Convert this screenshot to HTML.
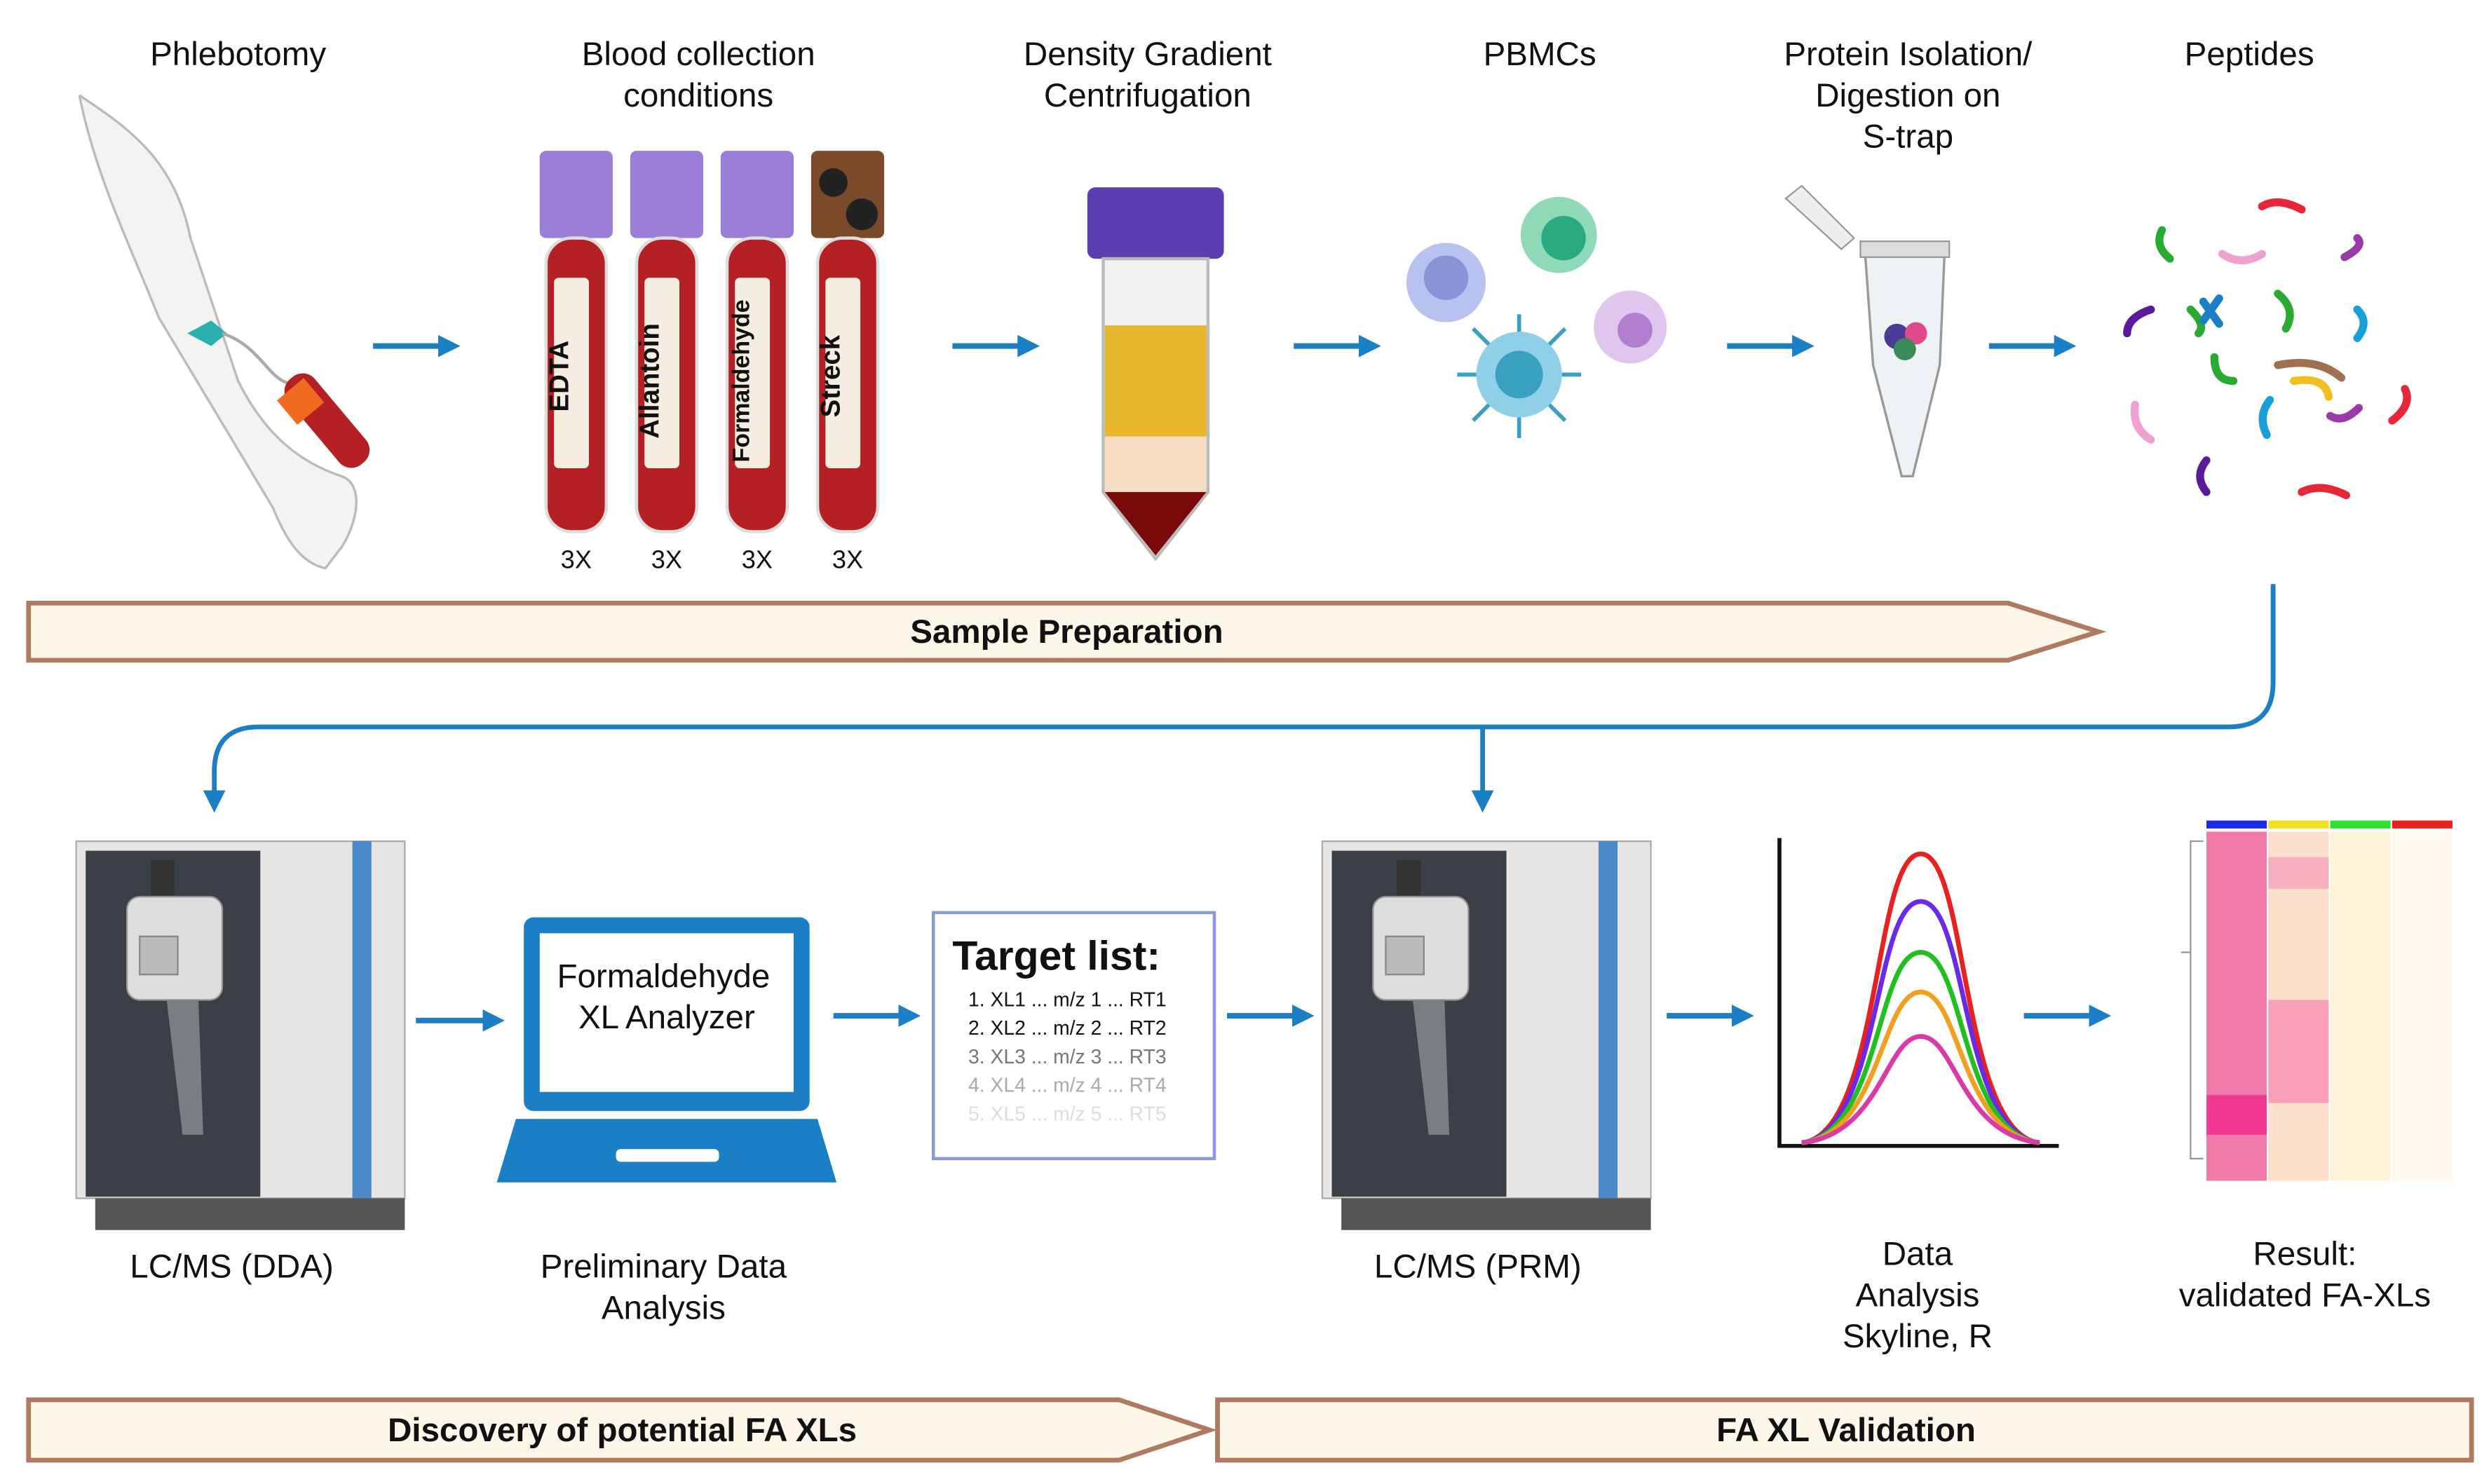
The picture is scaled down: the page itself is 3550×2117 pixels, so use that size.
<!DOCTYPE html>
<html><head><meta charset="utf-8"><style>
html,body{margin:0;padding:0;background:#fff}
svg{display:block}
text{font-family:"Liberation Sans",sans-serif;fill:#111}
</style></head><body>
<svg width="3550" height="2117" viewBox="0 0 1568 935" xmlns="http://www.w3.org/2000/svg">
<defs>
<marker id="ah" markerWidth="8" markerHeight="8" refX="6" refY="4" orient="auto" markerUnits="userSpaceOnUse"><path d="M0,0 L8,4 L0,8 z" fill="#1a7fc4"/></marker>
<marker id="ah2" markerWidth="14" markerHeight="14" refX="10" refY="7" orient="auto" markerUnits="userSpaceOnUse"><path d="M0,0 L14,7 L0,14 z" fill="#1a7fc4"/></marker>
<linearGradient id="blue" x1="0" x2="1"><stop offset="0" stop-color="#3a7fb8"/><stop offset="1" stop-color="#6aaad8"/></linearGradient>
</defs>
<g font-size="21" text-anchor="middle">
<text x="150" y="41">Phlebotomy</text>
<text x="440" y="41">Blood collection</text><text x="440" y="67">conditions</text>
<text x="723" y="41">Density Gradient</text><text x="723" y="67">Centrifugation</text>
<text x="970" y="41">PBMCs</text>
<text x="1202" y="41">Protein Isolation/</text><text x="1202" y="67">Digestion on</text><text x="1202" y="93">S-trap</text>
<text x="1417" y="41">Peptides</text>
</g>
<!-- top arrows -->
<g stroke="#1a7fc4" stroke-width="3.5" marker-end="url(#ah2)">
<line x1="235" y1="218" x2="286" y2="218"/><line x1="600" y1="218" x2="651" y2="218"/>
<line x1="815" y1="218" x2="866" y2="218"/><line x1="1088" y1="218" x2="1139" y2="218"/>
<line x1="1253" y1="218" x2="1304" y2="218"/>
<line x1="262" y1="643" x2="314" y2="643"/><line x1="525" y1="640" x2="576" y2="640"/>
<line x1="773" y1="640" x2="824" y2="640"/><line x1="1050" y1="640" x2="1101" y2="640"/>
<line x1="1275" y1="640" x2="1326" y2="640"/>
</g>
<!-- arm -->
<path d="M50,60 C80,80 110,100 120,150 L150,240 C165,270 185,290 215,300 C230,305 225,330 215,345 L205,358 C190,355 180,340 172,320 L100,200 C80,150 60,110 50,60" fill="#f3f3f3" stroke="#bbb" stroke-width="1.5"/>
<path d="M118,210 l15,-8 l10,8 l-10,8z" fill="#2ab0b0"/>
<path d="M140,210 C170,220 170,250 195,240" stroke="#aaa" fill="none" stroke-width="2"/>
<rect x="195" y="230" width="22" height="70" rx="10" fill="#b52025" transform="rotate(-40 206 265)"/>
<rect x="190" y="235" width="22" height="20" fill="#f06a20" transform="rotate(-40 206 265)"/>
<!-- tubes -->
<g>
<g id="t"><rect x="340" y="95" width="46" height="55" rx="4" fill="#9a7ed8"/><rect x="344" y="150" width="38" height="185" rx="16" fill="#b52025" stroke="#ddd" stroke-width="2"/><rect x="349" y="175" width="22" height="120" rx="3" fill="#f5ede0"/></g>
<use href="#t" x="57"/><use href="#t" x="114"/>
<rect x="511" y="95" width="46" height="55" rx="4" fill="#7a4a2a"/><circle cx="525" cy="115" r="9" fill="#222"/><circle cx="543" cy="135" r="10" fill="#222"/>
<rect x="515" y="150" width="38" height="185" rx="16" fill="#b52025" stroke="#ddd" stroke-width="2"/><rect x="520" y="175" width="22" height="120" rx="3" fill="#f5ede0"/>
<g font-size="17" font-weight="bold" text-anchor="middle">
<text transform="translate(358 237) rotate(-90)">EDTA</text>
<text transform="translate(415 240) rotate(-90)">Allantoin</text>
<text transform="translate(472 240) rotate(-90)" font-size="15">Formaldehyde</text>
<text transform="translate(529 237) rotate(-90)">Streck</text></g>
<g font-size="16" text-anchor="middle"><text x="363" y="358">3X</text><text x="420" y="358">3X</text><text x="477" y="358">3X</text><text x="534" y="358">3X</text></g>
</g>
<!-- centrifuge tube -->
<rect x="685" y="118" width="86" height="45" rx="5" fill="#5b3fb0"/>
<path d="M695,163 L761,163 L761,310 L728,352 L695,310z" fill="#f2f2f2" stroke="#bbb" stroke-width="2"/>
<rect x="696" y="205" width="64" height="70" fill="#e8b62a"/>
<rect x="696" y="275" width="64" height="35" fill="#f7dcc4"/>
<path d="M696,310 L760,310 L728,350z" fill="#7a0a0a"/>
<!-- cells -->
<circle cx="911" cy="178" r="25" fill="#b8c2f0"/><circle cx="911" cy="175" r="14" fill="#8a92d8"/>
<circle cx="982" cy="148" r="24" fill="#8fd8b8"/><circle cx="985" cy="150" r="14" fill="#2aaa80"/>
<circle cx="1027" cy="206" r="23" fill="#e0c6ee"/><circle cx="1030" cy="208" r="11" fill="#b27ed0"/>
<circle cx="957" cy="236" r="27" fill="#8fd0e8"/><circle cx="957" cy="236" r="15" fill="#3aa0c0"/>
<g stroke="#3aa0c0" stroke-width="2.5"><line x1="957" y1="209" x2="957" y2="198"/><line x1="957" y1="263" x2="957" y2="276"/><line x1="930" y1="236" x2="918" y2="236"/><line x1="984" y1="236" x2="996" y2="236"/><line x1="938" y1="217" x2="928" y2="207"/><line x1="976" y1="217" x2="986" y2="207"/><line x1="938" y1="255" x2="928" y2="265"/><line x1="976" y1="255" x2="986" y2="265"/></g>
<!-- S-trap -->
<path d="M1175,160 L1225,160 L1222,230 L1205,300 L1198,300 L1180,230z" fill="#eef2f4" stroke="#999" stroke-width="1.5"/>
<rect x="1172" y="152" width="56" height="10" fill="#ddd" stroke="#999"/>
<path d="M1125,125 L1135,117 L1168,150 L1160,157z" fill="#eee" stroke="#999"/>
<circle cx="1195" cy="212" r="8" fill="#4a3a9a"/><circle cx="1207" cy="210" r="7" fill="#e04a8a"/><circle cx="1200" cy="220" r="7" fill="#3a8a5a"/>
<!-- peptides -->
<g fill="none" stroke-width="5" stroke-linecap="round">
<path d="M1425,130 q10,-6 25,2" stroke="#e8263a"/><path d="M1362,145 q-5,10 5,18" stroke="#2aaa30"/><path d="M1400,160 q12,8 25,0" stroke="#f0a0d0"/>
<path d="M1485,150 q5,5 -8,12" stroke="#9a3aa8"/><path d="M1355,195 q-15,5 -15,15" stroke="#5a1a9a"/><path d="M1380,195 q10,10 5,15" stroke="#2aaa30"/>
<path d="M1388,190 l10,14 M1398,188 l-10,14" stroke="#1a7fc4"/><path d="M1435,185 q12,10 5,22" stroke="#2aaa30"/><path d="M1485,195 q8,8 0,18" stroke="#1aa0d8"/>
<path d="M1395,225 q0,15 12,15" stroke="#2aaa30"/><path d="M1435,230 q25,-5 40,8" stroke="#a07050"/><path d="M1445,240 q20,-3 22,10" stroke="#f0c020"/>
<path d="M1345,255 q-2,15 10,22" stroke="#f0a0d0"/><path d="M1430,252 q-8,10 -2,22" stroke="#1aa0d8"/><path d="M1468,262 q8,5 18,-5" stroke="#9a3aa8"/>
<path d="M1515,245 q5,10 -8,20" stroke="#e8263a"/><path d="M1390,290 q-8,10 0,20" stroke="#5a1a9a"/><path d="M1450,310 q12,-6 28,2" stroke="#e8263a"/>
</g>
<!-- banners -->
<path d="M18,380 L1265,380 L1322,398 L1265,416 L18,416z" fill="#fdf7ea" stroke="#b07a60" stroke-width="3"/>
<text x="672" y="405" font-size="21" font-weight="bold" text-anchor="middle">Sample Preparation</text>
<path d="M18,882 L705,882 L762,901 L705,920 L18,920z" fill="#fdf7ea" stroke="#b07a60" stroke-width="3"/>
<text x="392" y="908" font-size="21" font-weight="bold" text-anchor="middle">Discovery of potential FA XLs</text>
<path d="M767,882 L1557,882 L1557,920 L767,920z" fill="#fdf7ea" stroke="#b07a60" stroke-width="3"/>
<text x="1163" y="908" font-size="21" font-weight="bold" text-anchor="middle">FA XL Validation</text>
<!-- connector -->
<path d="M1432,368 L1432,430 Q1432,458 1404,458 L163,458 Q135,458 135,486 L135,508" fill="none" stroke="#1a7fc4" stroke-width="3" marker-end="url(#ah2)"/>
<path d="M934,458 L934,508" fill="none" stroke="#1a7fc4" stroke-width="3" marker-end="url(#ah2)"/>
<!-- mass specs -->
<g id="ms">
<rect x="48" y="530" width="207" height="225" fill="#e8e6e4" stroke="#aaa"/>
<rect x="54" y="536" width="110" height="218" fill="#3a4046"/>
<rect x="222" y="530" width="12" height="225" fill="#4a8ac8"/>
<rect x="60" y="755" width="195" height="20" fill="#555"/>
<rect x="80" y="565" width="60" height="65" rx="8" fill="#ddd" stroke="#999"/>
<rect x="88" y="590" width="24" height="24" fill="#bbb" stroke="#888"/>
<path d="M105,630 L125,630 L128,715 L115,715z" fill="#7a7e80"/>
<rect x="95" y="542" width="15" height="22" fill="#333"/>
<text x="146" y="805" font-size="21" text-anchor="middle">LC/MS (DDA)</text>
</g>
<g transform="translate(785 0)">
<rect x="48" y="530" width="207" height="225" fill="#e8e6e4" stroke="#aaa"/>
<rect x="54" y="536" width="110" height="218" fill="#3a4046"/>
<rect x="222" y="530" width="12" height="225" fill="#4a8ac8"/>
<rect x="60" y="755" width="195" height="20" fill="#555"/>
<rect x="80" y="565" width="60" height="65" rx="8" fill="#ddd" stroke="#999"/>
<rect x="88" y="590" width="24" height="24" fill="#bbb" stroke="#888"/>
<path d="M105,630 L125,630 L128,715 L115,715z" fill="#7a7e80"/>
<rect x="95" y="542" width="15" height="22" fill="#333"/>
<text x="146" y="805" font-size="21" text-anchor="middle">LC/MS (PRM)</text>
</g>
<!-- laptop -->
<rect x="330" y="578" width="180" height="122" rx="6" fill="#1a7fc4"/>
<rect x="340" y="588" width="160" height="100" fill="#fff"/>
<path d="M325,705 L515,705 L527,745 L313,745z" fill="#1a7fc4"/>
<rect x="388" y="724" width="65" height="8" rx="3" fill="#fff"/>
<text x="418" y="622" font-size="21" text-anchor="middle">Formaldehyde</text>
<text x="420" y="648" font-size="21" text-anchor="middle">XL Analyzer</text>
<text x="418" y="805" font-size="21" text-anchor="middle">Preliminary Data</text>
<text x="418" y="831" font-size="21" text-anchor="middle">Analysis</text>
<!-- target list -->
<rect x="588" y="575" width="177" height="155" fill="#fff" stroke="#8a9ad8" stroke-width="2"/>
<text x="600" y="611" font-size="26" font-weight="bold" text-anchor="start">Target list:</text>
<g font-size="12.5">
<text x="610" y="634">1.  XL1 ... m/z 1 ... RT1</text>
<text x="610" y="652" fill="#333">2.  XL2 ... m/z 2 ... RT2</text>
<text x="610" y="670" style="fill:#777">3.  XL3 ... m/z 3 ... RT3</text>
<text x="610" y="688" style="fill:#aaa">4.  XL4 ... m/z 4 ... RT4</text>
<text x="610" y="706" style="fill:#ddd">5.  XL5 ... m/z 5 ... RT5</text>
</g>
<!-- chart -->
<path d="M1121,528 L1121,722 L1297,722" fill="none" stroke="#111" stroke-width="2.5"/>
<g fill="none" stroke-width="3">
<path d="M1135,720 C1185,715 1180,538 1210,538 C1240,538 1235,715 1285,720" stroke="#e82020"/>
<path d="M1135,720 C1185,715 1180,568 1210,568 C1240,568 1235,715 1285,720" stroke="#6a2ae8"/>
<path d="M1135,720 C1185,715 1182,600 1210,600 C1238,600 1235,715 1285,720" stroke="#20c020"/>
<path d="M1135,720 C1185,715 1185,625 1210,625 C1235,625 1235,715 1285,720" stroke="#f0a020"/>
<path d="M1135,720 C1185,715 1188,653 1210,653 C1232,653 1235,715 1285,720" stroke="#d83aa8"/>
</g>
<g font-size="21" text-anchor="middle"><text x="1208" y="797">Data</text><text x="1208" y="823">Analysis</text><text x="1208" y="849">Skyline, R</text>
<text x="1452" y="797">Result:</text><text x="1452" y="823">validated FA-XLs</text></g>
<!-- heatmap -->
<rect x="1390" y="517" width="38" height="5" fill="#1a2ae8"/><rect x="1429" y="517" width="38" height="5" fill="#f0e020"/><rect x="1468" y="517" width="38" height="5" fill="#30e030"/><rect x="1507" y="517" width="38" height="5" fill="#e82020"/>
<rect x="1390" y="524" width="38" height="220" fill="#f07aa8"/>
<rect x="1390" y="690" width="38" height="25" fill="#f03a90"/>
<rect x="1429" y="524" width="38" height="220" fill="#fde0cc"/>
<rect x="1429" y="630" width="38" height="65" fill="#f7a0b8"/>
<rect x="1429" y="540" width="38" height="20" fill="#f7b0c0"/>
<rect x="1468" y="524" width="38" height="220" fill="#fdf3d8"/>
<rect x="1507" y="524" width="38" height="220" fill="#fff8ee"/>
<path d="M1388,530 h-8 v200 h8 M1380,600 h-6" fill="none" stroke="#999"/>
</svg>
</body></html>
